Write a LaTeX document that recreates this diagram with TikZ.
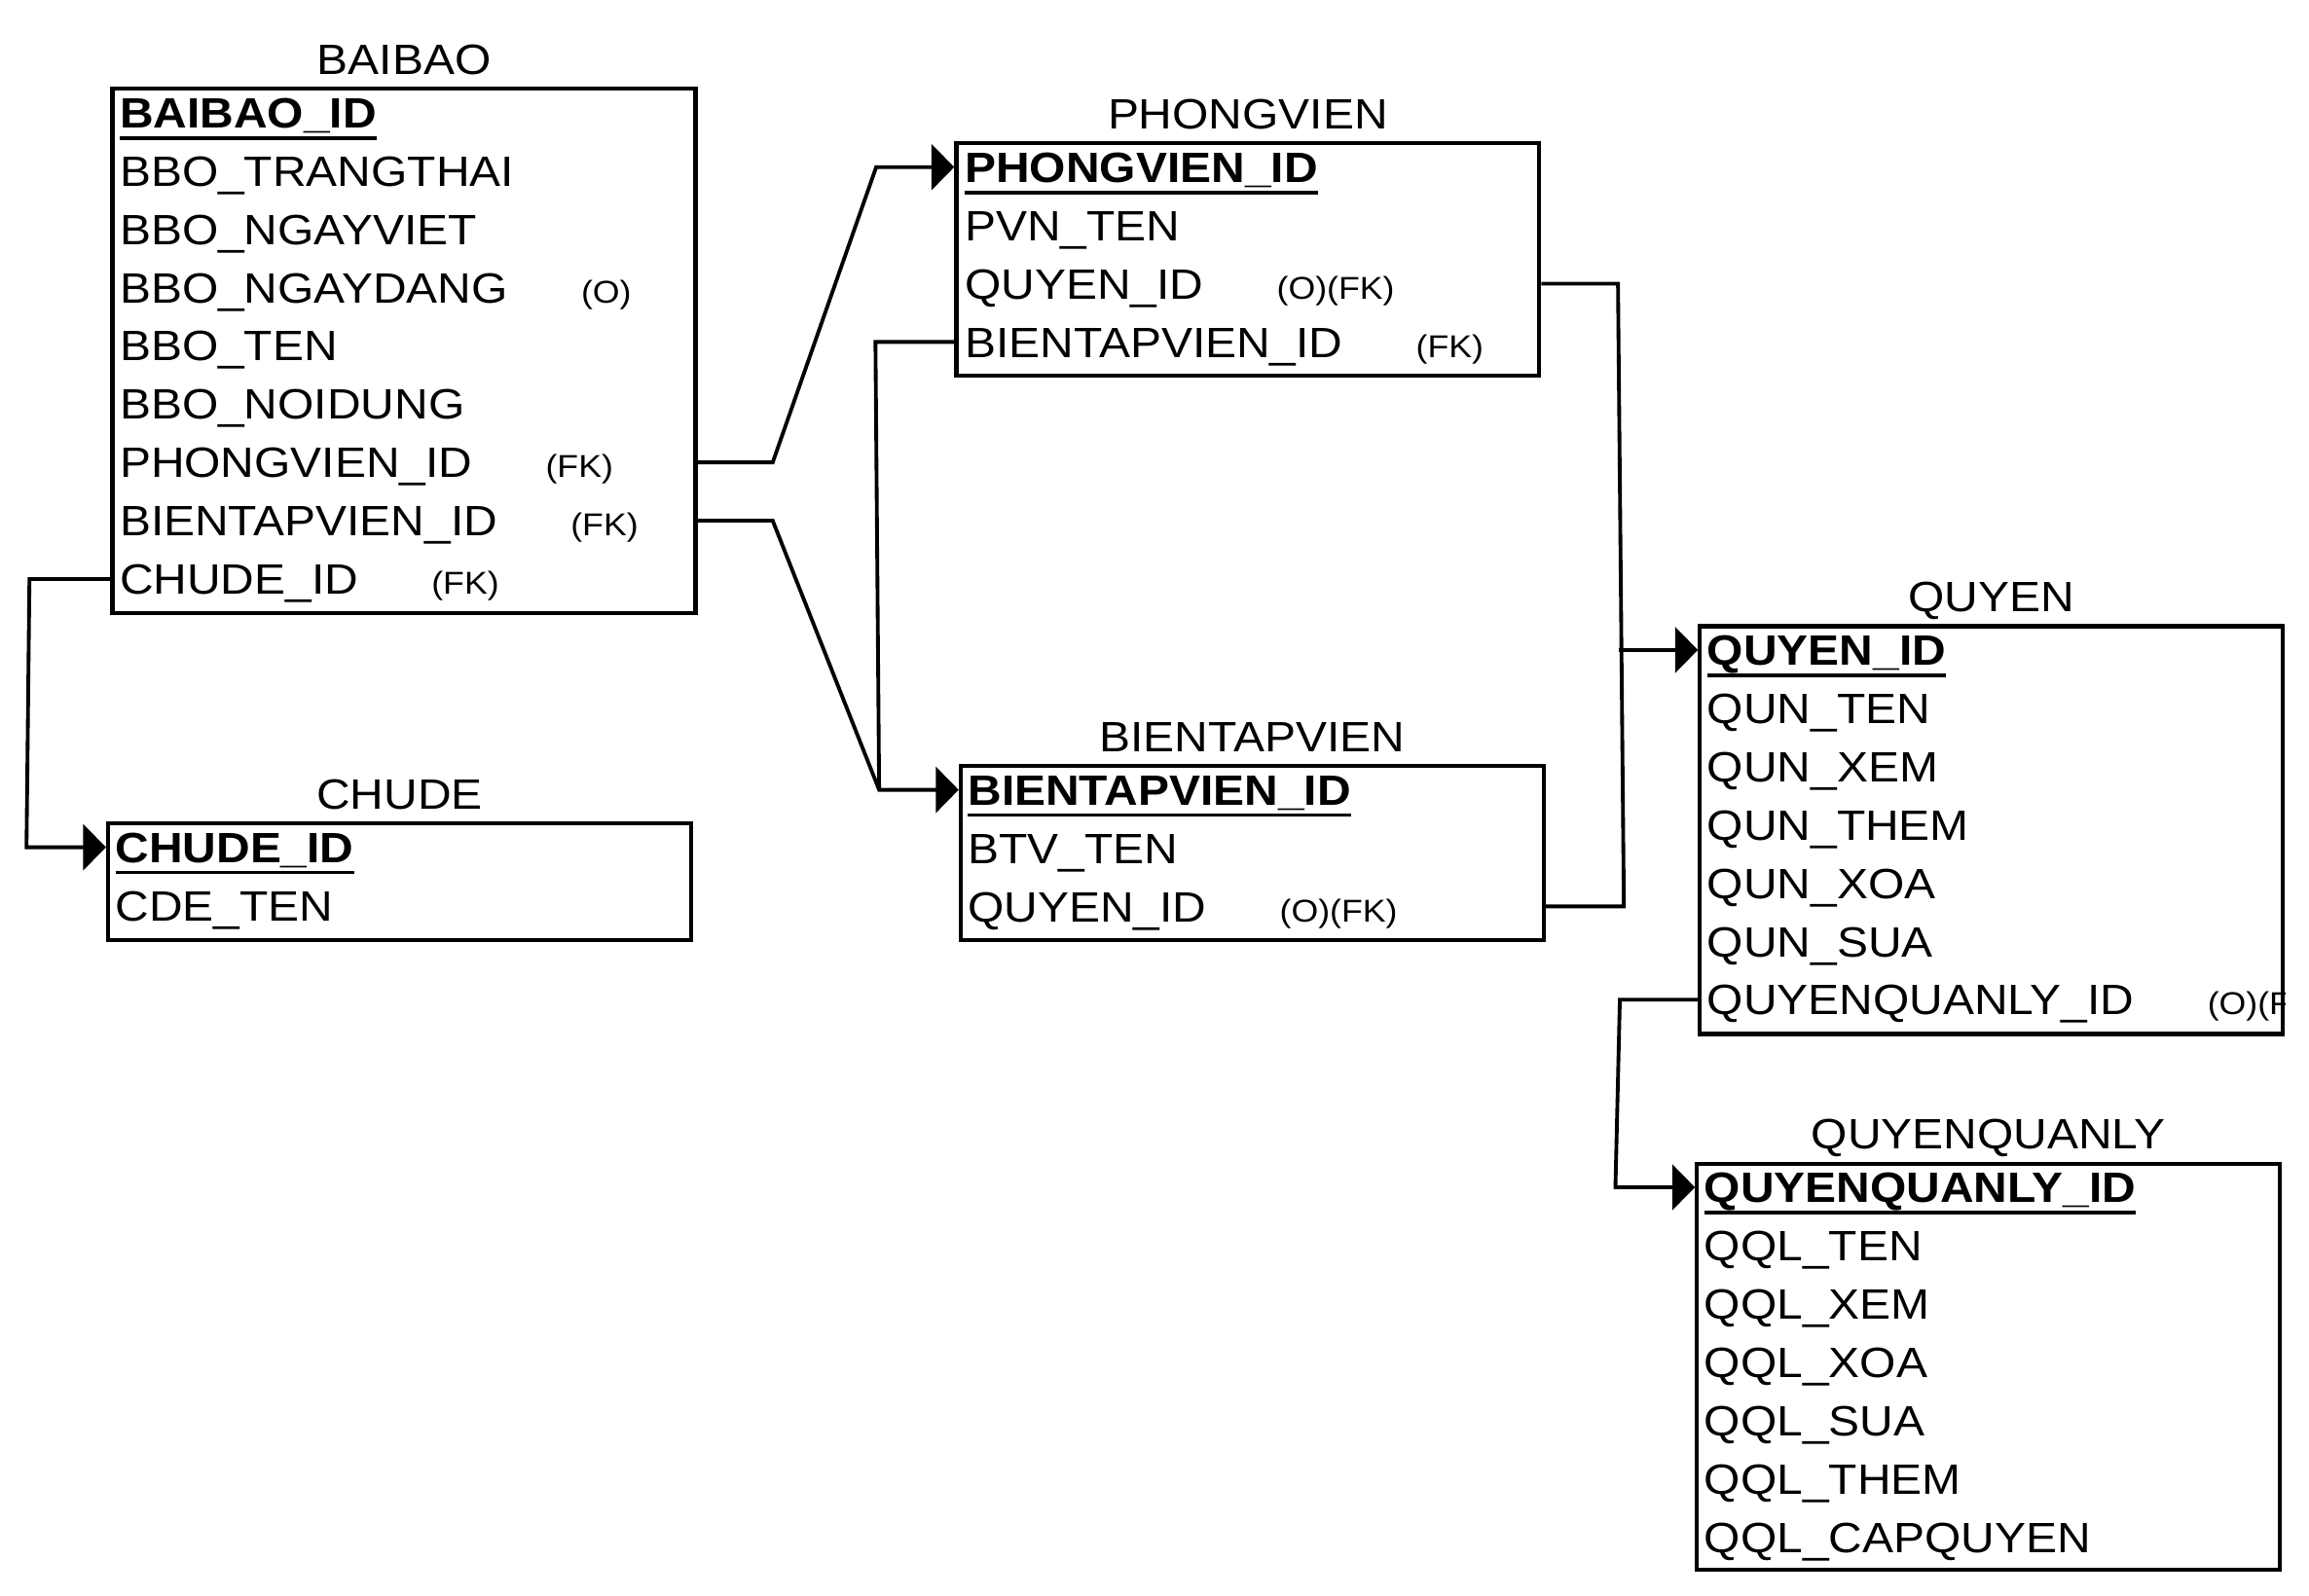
\documentclass[tikz,border=0pt]{standalone}
\usepackage{fontspec}
\setmainfont{Liberation Sans}[FakeStretch=1.1]
\usetikzlibrary{calc,positioning,arrows.meta}

\newcommand\pkey[1]{\setbox0=\hbox{\bfseries #1}\rlap{\rule[-4.6pt]{\wd0}{1.3pt}}\box0}

\tikzset{
  tbl/.style={draw, line width=1.6pt, anchor=north west, inner sep=0, minimum width=7.92cm},
  fld/.style={anchor=west, inner sep=0, font=\fontsize{16.4}{19}\selectfont, text height=11.74pt, text depth=0pt},
  note/.style={inner sep=0, font=\fontsize{12.2}{14}\selectfont},
  ttl/.style={anchor=base, inner sep=0, font=\fontsize{16.4}{19}\selectfont},
  fk/.style={line width=1.45pt},
  ref/.style={fk, -{Triangle[length=0.31cm, width=0.62cm]}}
}

\begin{document}
\begin{tikzpicture}[x=0.02cm, y=-0.02cm]
\useasboundingbox (0,0) rectangle (1568,1084);

% BAIBAO
\node[tbl, minimum height=7.12cm] (baibao) at (75,59) {};
\node[ttl] (t-bb) at ([yshift=0.17cm]baibao.north) {BAIBAO};
\node[fld] (bb0) at (81,76.5) {\pkey{BAIBAO\_ID}};
\foreach \txt [count=\i] in {BBO\_TRANGTHAI, BBO\_NGAYVIET, BBO\_NGAYDANG, BBO\_TEN,
    BBO\_NOIDUNG, PHONGVIEN\_ID, BIENTAPVIEN\_ID, CHUDE\_ID}
  \node[fld] (bb\i) at (81,76.5+39.6*\i) {\txt};
\node[note, base right=0.98cm of bb3] (n-bb3) {(O)};
\node[note, base right=0.98cm of bb6] (n-bb6) {(FK)};
\node[note, base right=0.98cm of bb7] (n-bb7) {(FK)};
\node[note, base right=0.98cm of bb8] (n-bb8) {(FK)};

% CHUDE
\node[tbl, minimum height=1.58cm] (chude) at (72,558) {};
\node[ttl] (t-cd) at ([yshift=0.17cm]chude.north) {CHUDE};
\node[fld] (cd0) at (78,575.5) {\pkey{CHUDE\_ID}};
\node[fld] (cd1) at (78,615.1) {CDE\_TEN};

% PHONGVIEN
\node[tbl, minimum height=3.16cm] (phongvien) at (648,96) {};
\node[ttl] (t-pv) at ([yshift=0.17cm]phongvien.north) {PHONGVIEN};
\node[fld] (pv0) at (655,113.5) {\pkey{PHONGVIEN\_ID}};
\foreach \txt [count=\i] in {PVN\_TEN, QUYEN\_ID, BIENTAPVIEN\_ID}
  \node[fld] (pv\i) at (655,113.5+39.6*\i) {\txt};
\node[note, base right=0.98cm of pv2] (n-pv2) {(O)(FK)};
\node[note, base right=0.98cm of pv3] (n-pv3) {(FK)};

% BIENTAPVIEN
\node[tbl, minimum height=2.36cm] (btv) at (651,519) {};
\node[ttl] (t-bt) at ([yshift=0.17cm]btv.north) {BIENTAPVIEN};
\node[fld] (bt0) at (657,536.5) {\pkey{BIENTAPVIEN\_ID}};
\node[fld] (bt1) at (657,576.1) {BTV\_TEN};
\node[fld] (bt2) at (657,615.7) {QUYEN\_ID};
\node[note, base right=0.98cm of bt2] (n-bt2) {(O)(FK)};

% QUYEN
\node[tbl, minimum height=5.54cm] (quyen) at (1153,424) {};
\node[ttl] (t-q) at ([yshift=0.17cm]quyen.north) {QUYEN};
\node[fld] (q0) at (1159,441.5) {\pkey{QUYEN\_ID}};
\foreach \txt [count=\i] in {QUN\_TEN, QUN\_XEM, QUN\_THEM, QUN\_XOA, QUN\_SUA, QUYENQUANLY\_ID}
  \node[fld] (q\i) at (1159,441.5+39.6*\i) {\txt};
\begin{scope}
  \clip (quyen.north west) rectangle (quyen.south east);
  \node[note, base right=0.98cm of q6] (n-q6) {(O)(FK)};
\end{scope}

% QUYENQUANLY
\node[tbl, minimum height=5.52cm] (qql) at (1151,789) {};
\node[ttl] (t-qq) at ([yshift=0.17cm]qql.north) {QUYENQUANLY};
\node[fld] (qq0) at (1157,806.5) {\pkey{QUYENQUANLY\_ID}};
\foreach \txt [count=\i] in {QQL\_TEN, QQL\_XEM, QQL\_XOA, QQL\_SUA, QQL\_THEM, QQL\_CAPQUYEN}
  \node[fld] (qq\i) at (1157,806.5+39.6*\i) {\txt};

% khoa ngoai
\draw[ref] (baibao.east |- bb6) -- ++(51,0) -- ($(phongvien.west |- pv0)+(-53,0)$) -- (phongvien.west |- pv0);
\draw[ref] (baibao.east |- bb7) -- ++(51,0) -- ($(btv.west |- bt0)+(-54,0)$) -- (btv.west |- bt0);
\draw[fk] (phongvien.west |- pv3) -- ++(-53.5,0) -- ($(btv.west |- bt0)+(-54,0)$);
\draw[ref] (baibao.west |- bb8) -- ++(-55,0) -- ($(chude.west |- cd0)+(-54,0)$) -- (chude.west |- cd0);
\draw[fk] (phongvien.east |- pv2) -- ++(52,0) -- ($(btv.east |- bt2)+(53,0)$) -- (btv.east |- bt2);
\draw[ref] ($(quyen.west |- q0)+(-54,0)$) -- (quyen.west |- q0);
\draw[ref] (quyen.west |- q6) -- ++(-53,0) -- ($(qql.west |- qq0)+(-54,0)$) -- (qql.west |- qq0);

\end{tikzpicture}
\end{document}
